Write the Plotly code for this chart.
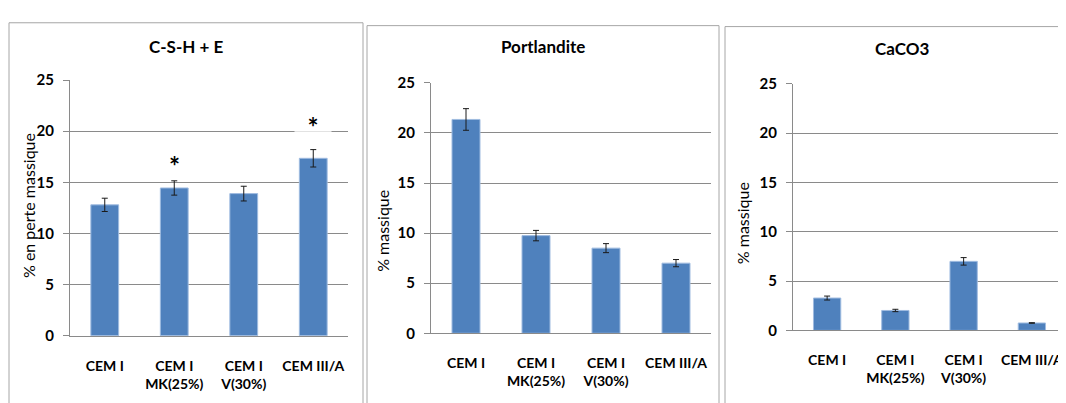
import plotly.graph_objects as go

categories = ["CEM I", "CEM I<br>MK(25%)", "CEM I<br>V(30%)", "CEM III/A"]
csh_values = [12.8, 14.45, 13.9, 17.35]
csh_errors = [0.65, 0.7, 0.72, 0.85]
port_values = [21.35, 9.75, 8.5, 7.0]
port_errors = [1.08, 0.52, 0.45, 0.36]
caco3_values = [3.28, 2.02, 7.0, 0.75]
caco3_errors = [0.2, 0.12, 0.38, 0.03]
titles = ["C-S-H + E", "Portlandite", "CaCO3"]
y_titles = ["% en perte massique", "% massique", "% massique"]
y_ticks = [0, 5, 10, 15, 20, 25]
star_positions = [(1, 16.6), (3, 20.45)]

# the page places the figure 8px from the top-left corner of the window
OFF = 8
W, H = 1066 - OFF, 403 - OFF
FONT = "Lato"
BAR = "#4F81BD"
GRID = "#8a8a8a"
BORDER = "#a6a6a6"


def px(x):
    return (x - OFF) / W


def py(y):
    return 1 - (y - OFF) / H


# plot areas in window pixels: (left, right, top(25), bottom(0))
areas = [(70, 348, 73, 341), (431, 711, 76, 338.3), (793, 1066, 77, 335.3)]
panels = [(9, 363, 13), (367, 719, 16), (725, 1100, 17)]
title_pos = [(186, 38), (543, 38), (902, 40)]
ytitle_pos = [(28, 205), (383, 231), (742, 223)]

series = [(csh_values, csh_errors), (port_values, port_errors), (caco3_values, caco3_errors)]

fig = go.Figure()
layout = dict(
    width=W, height=H, margin=dict(l=0, r=0, t=0, b=0),
    paper_bgcolor="white", plot_bgcolor="white", showlegend=False,
    font=dict(family=FONT, color="#000000"),
    bargap=0.6,
)
annotations = []
shapes = []
for i, ((vals, errs), (l, r, t, b)) in enumerate(zip(series, areas)):
    xa = "x" if i == 0 else f"x{i+1}"
    ya = "y" if i == 0 else f"y{i+1}"
    fig.add_trace(go.Bar(
        x=categories, y=vals, xaxis=xa, yaxis=ya,
        marker=dict(color=BAR, line=dict(color="#9fbbe0", width=1)),
        error_y=dict(type="data", array=errs, visible=True, color="#1a1a1a", thickness=1, width=3),
        width=0.4,
    ))
    xkey = "xaxis" if i == 0 else f"xaxis{i+1}"
    ykey = "yaxis" if i == 0 else f"yaxis{i+1}"
    layout[xkey] = dict(
        domain=[max(0, px(l)), min(1, px(r))], anchor=ya, type="category",
        range=[-0.5, 3.5],
        showline=True, linecolor=GRID, linewidth=1,
        showgrid=False, ticks="", ticklabelstandoff=17,
        tickfont=dict(family=FONT, size=14, weight="bold", color="#000000"),
    )
    layout[ykey] = dict(
        domain=[py(b), py(t)], anchor=xa, range=[0, 25],
        tickvals=y_ticks, showgrid=True, gridcolor=GRID, gridwidth=1,
        showline=True, linecolor=GRID, linewidth=1,
        ticks="outside", ticklen=6, tickcolor=GRID,
        zeroline=False, ticklabelstandoff=6,
        tickfont=dict(family=FONT, size=15, weight="bold", color="#000000"),
    )
    tx, ty = title_pos[i]
    annotations.append(dict(
        text=f"<b>{titles[i]}</b>", x=px(tx), y=py(ty), xref="paper", yref="paper",
        showarrow=False, xanchor="center", yanchor="middle",
        font=dict(family=FONT, size=17, color="#000000"),
    ))
    yx, yy = ytitle_pos[i]
    annotations.append(dict(
        text=y_titles[i], x=px(yx), y=py(yy), xref="paper", yref="paper",
        showarrow=False, xanchor="center", yanchor="middle", textangle=-90,
        font=dict(family=FONT, size=16, color="#000000"),
    ))
    pl, pr, pt = panels[i]
    shapes.append(dict(
        type="rect", xref="paper", yref="paper",
        x0=px(pl), x1=px(pr), y0=py(pt), y1=py(440),
        line=dict(color=BORDER, width=1), fillcolor="rgba(0,0,0,0)", layer="above",
    ))

for k, (ci, sy) in enumerate(star_positions):
    annotations.append(dict(
        text="<b>*</b>", x=categories[ci], y=sy, xref="x", yref="y",
        showarrow=False, xanchor="center", yanchor="middle",
        font=dict(family=FONT, size=26, color="#000000"),
        bgcolor="rgba(255,255,255,0.75)" if k == 1 else "rgba(0,0,0,0)",
        width=34 if k == 1 else None,
    ))

layout["annotations"] = annotations
layout["shapes"] = shapes
fig.update_layout(**layout)
fig.write_html("out.html")
